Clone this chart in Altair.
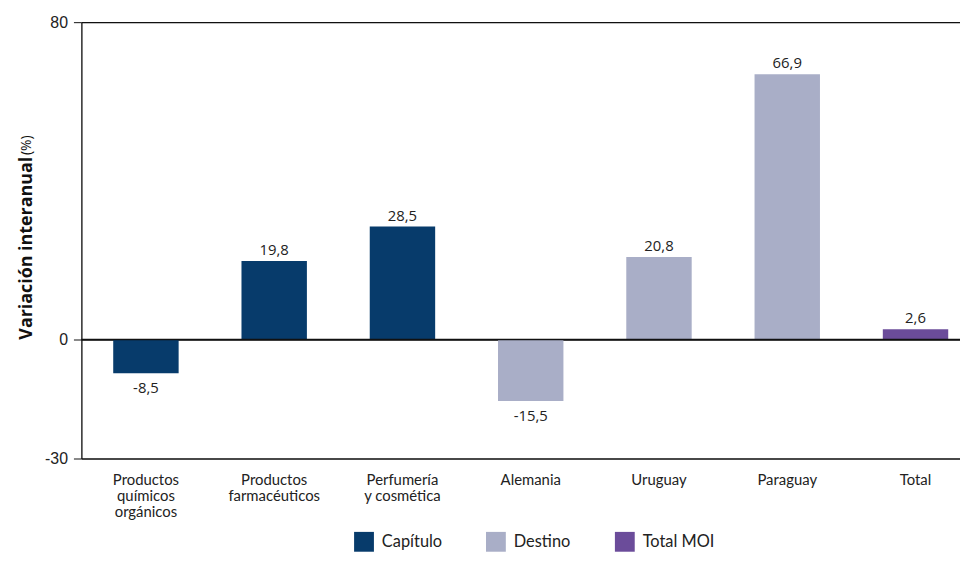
import altair as alt
import pandas as pd

categories = ["Productos\nquímicos\norgánicos", "Productos\nfarmacéuticos", "Perfumería\ny cosmética",
              "Alemania", "Uruguay", "Paraguay", "Total"]
values = [-8.5, 19.8, 28.5, -15.5, 20.8, 66.9, 2.6]
groups = ["Capítulo", "Capítulo", "Capítulo", "Destino", "Destino", "Destino", "Total MOI"]
group_order = ["Capítulo", "Destino", "Total MOI"]
group_colors = ["#073b6b", "#a9aec7", "#6b4c9a"]
y_ticks = [-30, 0, 80]
y_title_main = "Variación interanual"
y_title_unit = "(%)"

df = pd.DataFrame({"cat": categories, "v": values, "g": groups})

W, H = 886, 440

x = alt.X("cat:N", sort=categories, title=None,
          scale=alt.Scale(paddingInner=0.49, paddingOuter=0.17, align=0.73, round=False),
          axis=alt.Axis(labelExpr="split(datum.label, '\\n')", labelAngle=0, domain=False, ticks=False,
                        labelFont="Lato", labelFontSize=15, labelColor="#222", labelPadding=14,
                        labelLineHeight=16, labelBaseline="top"))
y = alt.Y("v:Q", title=None, scale=alt.Scale(domain=[-30, 80], nice=False, zero=False),
          axis=alt.Axis(values=y_ticks, grid=True, gridColor="#111", gridOpacity=1, gridWidth=1.3,
                        tickSize=8, tickColor="#111", domainColor="#111", domainWidth=1.3,
                        labelExpr="toString(datum.value)",
                        labelFont="Liberation Sans", labelFontSize=16, labelColor="#222", labelPadding=6))

bars = alt.Chart(df).mark_bar().encode(
    x=x, y=y, y2=alt.datum(0),
    color=alt.Color("g:N", scale=alt.Scale(domain=group_order, range=group_colors),
                    legend=alt.Legend(title=None, orient="none", legendX=275, legendY=514, direction="horizontal",
                                      symbolType="square", symbolSize=400, symbolStrokeWidth=0,
                                      labelFont="Lato", labelFontSize=16.5, labelColor="#222",
                                      columnPadding=44, labelOffset=8))
)

zero = alt.Chart(pd.DataFrame({"z": [0]})).mark_rule(color="#111", strokeWidth=1.5).encode(y=alt.Y("z:Q"))

lbl = alt.Chart(df).transform_calculate(
    t="replace(replace(format(datum.v, '.1f'), '.', ','), '\u2212', '-')"
)
pos_lbl = lbl.transform_filter("datum.v >= 0").mark_text(
    baseline="bottom", dy=-3, font="Open Sans", fontSize=15, color="#222"
).encode(x=alt.X("cat:N", sort=categories), y="v:Q", text="t:N")
neg_lbl = lbl.transform_filter("datum.v < 0").mark_text(
    baseline="top", dy=8, font="Open Sans", fontSize=15, color="#222"
).encode(x=alt.X("cat:N", sort=categories), y="v:Q", text="t:N")

title_df = pd.DataFrame({"t": [y_title_main]})
unit_df = pd.DataFrame({"t": [y_title_unit]})
t1 = alt.Chart(title_df).mark_text(angle=270, font="Open Sans", fontWeight="bold", fontSize=18,
                                   color="#111", align="center", baseline="middle").encode(
    x=alt.value(-55), y=alt.value(228), text="t:N")
t2 = alt.Chart(unit_df).mark_text(angle=270, font="Open Sans", fontSize=14,
                                  color="#111", align="center", baseline="middle").encode(
    x=alt.value(-55), y=alt.value(124), text="t:N")

chart = alt.layer(bars, zero, pos_lbl, neg_lbl, t1, t2).properties(
    width=W, height=H, autosize=alt.AutoSizeParams(type="none"),
    padding={"left": 74, "top": 12, "right": 0, "bottom": 94}
).configure_view(stroke=None).configure(background="white")

chart.save("out.html", embed_options={"renderer": "svg", "actions": False})
